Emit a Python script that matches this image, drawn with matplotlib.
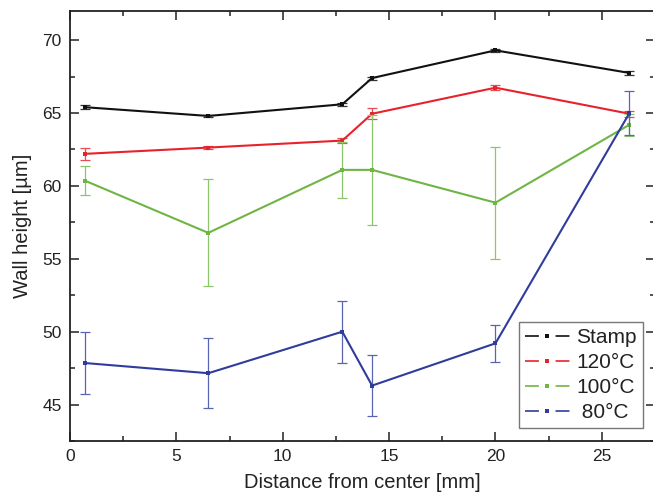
import matplotlib
matplotlib.use("Agg")
import matplotlib.pyplot as plt
from matplotlib.lines import Line2D
from matplotlib.ticker import MultipleLocator

plt.rcParams["font.family"] = ["Liberation Sans", "DejaVu Sans"]
plt.rcParams["lines.scale_dashes"] = False

# Distance from center [mm]
distance = [0.7, 6.5, 12.8, 14.2, 20.0, 26.3]

# Wall height [µm] and standard deviations per series
stamp = [65.4, 64.8, 65.6, 67.4, 69.3, 67.75]
stamp_err = [0.15, 0.08, 0.12, 0.1, 0.1, 0.12]

t120 = [62.2, 62.63, 63.11, 64.95, 66.74, 64.95]
t120_err = [0.39, 0.12, 0.17, 0.39, 0.15, 0.2]

t100 = [60.36, 56.78, 61.1, 61.1, 58.85, 64.2]
t100_err = [1.0, 3.68, 1.9, 3.76, 3.85, 0.75]

t80 = [47.85, 47.15, 50.0, 46.3, 49.2, 65.0]
t80_err = [2.1, 2.4, 2.13, 2.1, 1.26, 1.54]

labels = ["Stamp", "120°C", "100°C", " 80°C"]
colors = ["#111111", "#e8222c", "#6fb544", "#2f3c9c"]
err_colors = ["#333333", "#e84a50", "#8cc66a", "#5a64b4"]

fig = plt.figure(figsize=(6.53, 4.99), dpi=100)
ax = fig.add_axes([70 / 653, 58 / 499, 585 / 653, 430 / 499])

series = [(stamp, stamp_err), (t120, t120_err), (t100, t100_err), (t80, t80_err)]
for (vals, errs), c, ec in zip(series, colors, err_colors):
    ax.errorbar(distance, vals, yerr=errs, fmt="none", ecolor=ec,
                elinewidth=0.9, capsize=3.4, capthick=0.9)
    ax.plot(distance, vals, color=c, lw=1.5, marker="s", markersize=2.2,
            markeredgewidth=0)

ax.set_xlim(0, 27.5)
ax.set_ylim(42.5, 72)
ax.xaxis.set_major_locator(MultipleLocator(5))
ax.xaxis.set_minor_locator(MultipleLocator(2.5))
ax.yaxis.set_major_locator(MultipleLocator(5))
ax.yaxis.set_minor_locator(MultipleLocator(2.5))
ax.tick_params(which="both", direction="in", top=True, right=True,
               width=1.1, colors="#222222", labelcolor="#222222")
ax.tick_params(which="major", length=6.5, labelsize=12.5, pad=6)
ax.tick_params(which="minor", length=3.6)
for s in ax.spines.values():
    s.set_linewidth(1.3)
    s.set_color("#222222")

ax.set_xlabel("Distance from center [mm]", fontsize=14.5, color="#222222", labelpad=6)
ax.set_ylabel("Wall height [µm]", fontsize=14.5, color="#222222", labelpad=7)

handles = [Line2D([], [], color=c, lw=1.2, linestyle=(0, (10, 5.5, 1, 5.5, 10, 20)),
                  marker="s", markersize=2.5, markeredgewidth=0)
           for c in colors]
leg = ax.legend(handles, labels, loc="lower right", bbox_to_anchor=(0.979, 0.030),
                borderaxespad=0, fontsize=15, frameon=True, fancybox=False,
                handlelength=32 / 15, handletextpad=0.3, labelspacing=0.28,
                borderpad=0.3, numpoints=1)
leg.get_frame().set_edgecolor("#555555")
leg.get_frame().set_linewidth(1.0)
for t in leg.get_texts():
    t.set_color("#222222")

fig.savefig("out.png", dpi=100)
